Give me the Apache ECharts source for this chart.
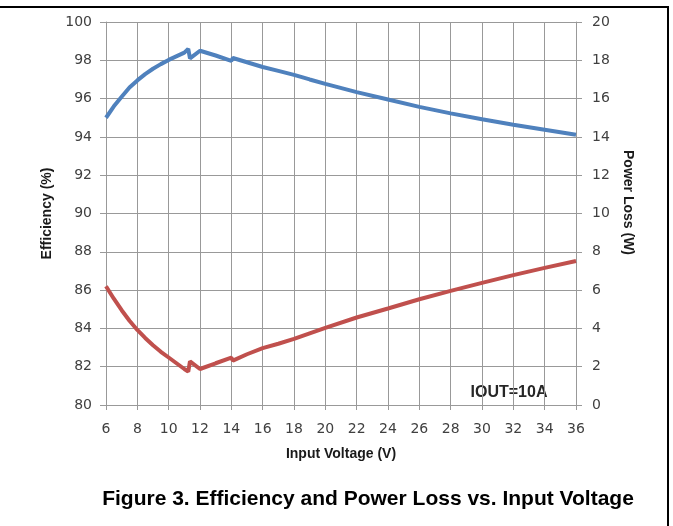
<!DOCTYPE html>
<html>
<head>
<meta charset="utf-8">
<title>Efficiency and Power Loss vs. Input Voltage</title>
<script src="https://cdn.jsdelivr.net/npm/echarts@6/dist/echarts.min.js"></script>
<style>
    html, body { margin: 0; padding: 0; background: #fff; }
    #chart { width: 673px; height: 526px; }
</style>
</head>
<body>
<div id="chart"></div>
<script>
// input voltage (V), shared by both curves
const vin = [6, 6.5, 7, 7.5, 8, 8.5, 9, 9.5, 10, 11, 11.25, 11.36, 12, 13, 14, 14.1, 15, 16, 17, 18, 19, 20, 22, 24, 26, 28, 30, 32, 34, 36];
// efficiency (%), left axis
const efficiency = [95.0, 95.6, 96.1, 96.58, 96.95, 97.28, 97.56, 97.8, 98.02, 98.4, 98.6, 98.1, 98.5, 98.25, 97.97, 98.12, 97.9, 97.65, 97.45, 97.24, 97.0, 96.77, 96.34, 95.95, 95.57, 95.23, 94.92, 94.63, 94.37, 94.11];
// power loss (W), right axis
const powerLoss = [6.2, 5.55, 4.95, 4.4, 3.92, 3.5, 3.12, 2.78, 2.48, 1.88, 1.74, 2.28, 1.88, 2.18, 2.47, 2.32, 2.65, 2.97, 3.2, 3.45, 3.74, 4.03, 4.57, 5.04, 5.52, 5.96, 6.38, 6.78, 7.16, 7.52];

const xTitle = 'Input Voltage (V)';
const leftTitle = 'Efficiency (%)';
const rightTitle = 'Power Loss (W)';
const caption = 'Figure 3. Efficiency and Power Loss vs. Input Voltage';
const note = 'IOUT=10A';

const gridColor = '#999999';
const tickFont = { fontFamily: 'DejaVu Sans', fontSize: 14, color: '#404040' };
const nameFont = { fontFamily: 'Liberation Sans', fontSize: 14, fontWeight: 'bold', color: '#1a1a1a' };

function pairs(xs, ys) {
    let out = [];
    for (let i = 0; i < xs.length; i++) {
        out.push([xs[i], ys[i]]);
    }
    return out;
}

let myChart = echarts.init(document.getElementById('chart'), null, { renderer: 'canvas' });

myChart.setOption({
    animation: false,
    backgroundColor: '#ffffff',
    grid: { left: 106, right: 97, top: 22, bottom: 121 },
    xAxis: {
        type: 'value',
        min: 6,
        max: 36,
        interval: 2,
        name: xTitle,
        nameLocation: 'middle',
        nameGap: 42,
        nameTextStyle: nameFont,
        axisLine: { show: true, lineStyle: { color: gridColor, width: 1 } },
        axisTick: { show: true, length: 5, lineStyle: { color: gridColor } },
        axisLabel: Object.assign({ margin: 17 }, tickFont),
        splitLine: { show: true, lineStyle: { color: gridColor, width: 1 } }
    },
    yAxis: [
        {
            type: 'value',
            position: 'left',
            min: 80,
            max: 100,
            interval: 2,
            name: leftTitle,
            nameLocation: 'middle',
            nameRotate: 90,
            nameGap: 50,
            nameTextStyle: nameFont,
            axisLine: { show: true, lineStyle: { color: gridColor, width: 1 } },
            axisTick: { show: true, length: 6, lineStyle: { color: gridColor } },
            axisLabel: Object.assign({ margin: 14 }, tickFont),
            splitLine: { show: true, lineStyle: { color: gridColor, width: 1 } }
        },
        {
            type: 'value',
            position: 'right',
            min: 0,
            max: 20,
            interval: 2,
            name: rightTitle,
            nameLocation: 'middle',
            nameRotate: -90,
            nameGap: 45,
            nameTextStyle: Object.assign({ padding: [0, 22, 0, 0] }, nameFont),
            axisLine: { show: true, lineStyle: { color: gridColor, width: 1 } },
            axisTick: { show: true, length: 6, lineStyle: { color: gridColor } },
            axisLabel: Object.assign({ margin: 16 }, tickFont),
            splitLine: { show: false }
        }
    ],
    series: [
        {
            name: 'Efficiency',
            type: 'line',
            yAxisIndex: 0,
            data: pairs(vin, efficiency),
            showSymbol: false,
            symbol: 'none',
            lineStyle: { color: '#4f81bd', width: 4 },
            itemStyle: { color: '#4f81bd' }
        },
        {
            name: 'Power Loss',
            type: 'line',
            yAxisIndex: 1,
            data: pairs(vin, powerLoss),
            showSymbol: false,
            symbol: 'none',
            lineStyle: { color: '#c0504d', width: 4 },
            itemStyle: { color: '#c0504d' }
        }
    ],
    graphic: [
        // frame around the figure (top and right edge)
        {
            type: 'polyline',
            shape: { points: [[0, 7], [668, 7], [668, 526]] },
            style: { stroke: '#000', lineWidth: 2, fill: null },
            silent: true
        },
        {
            type: 'text',
            x: 509,
            y: 393,
            style: {
                text: note,
                fontFamily: 'Liberation Sans',
                fontSize: 16,
                fontWeight: 'bold',
                fill: '#262626',
                align: 'center',
                verticalAlign: 'middle'
            }
        },
        {
            type: 'text',
            x: 368,
            y: 499,
            style: {
                text: caption,
                fontFamily: 'Liberation Sans',
                fontSize: 21,
                fontWeight: 'bold',
                fill: '#000',
                align: 'center',
                verticalAlign: 'middle'
            }
        }
    ]
});
</script>
</body>
</html>
